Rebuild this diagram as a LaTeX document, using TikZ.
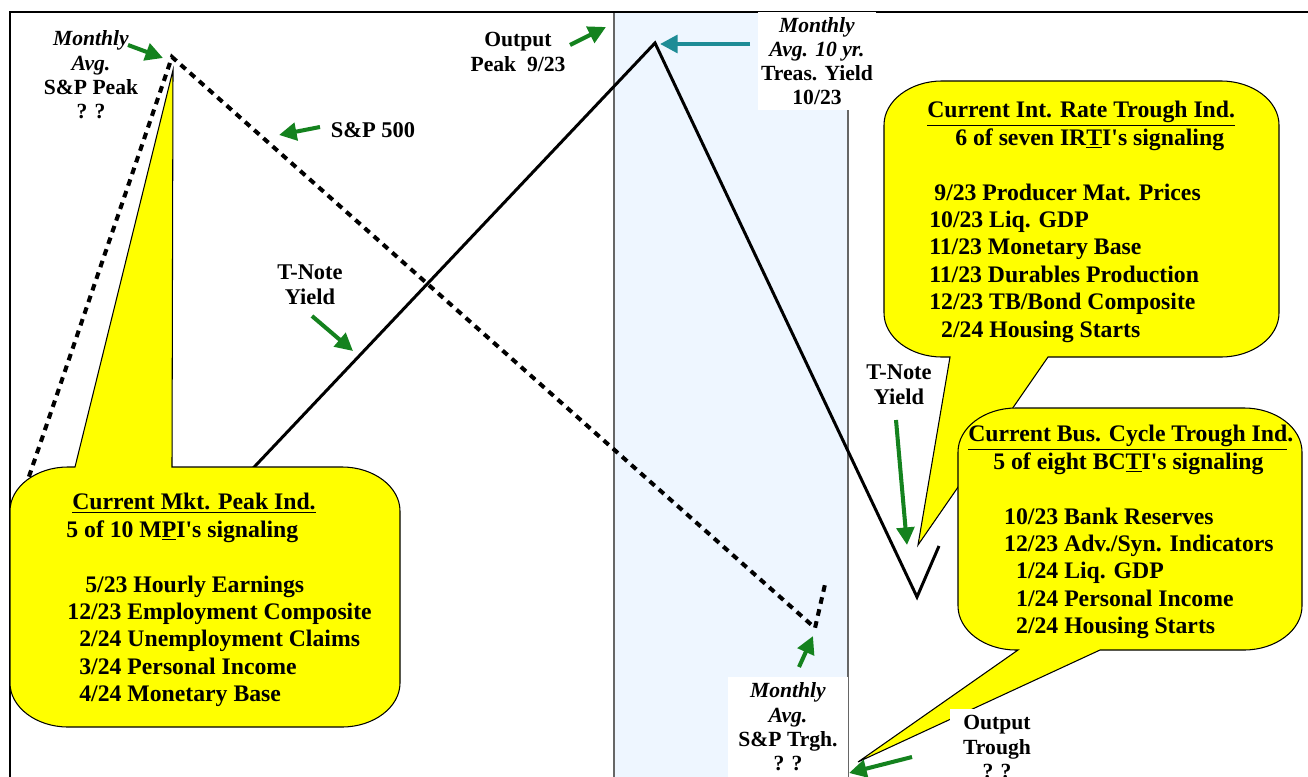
\documentclass[tikz,border=0pt]{standalone}
\usepackage{fontspec}
\setmainfont{Liberation Serif}[Ligatures=TeXOff]
\usepackage{tikz}
\usetikzlibrary{arrows.meta, positioning}

\definecolor{bandblue}{RGB}{238,246,255}
\definecolor{arrowgreen}{RGB}{20,130,30}
\definecolor{arrowteal}{RGB}{30,140,150}
\definecolor{calloutyellow}{RGB}{255,255,0}

\begin{document}
\begin{tikzpicture}[
    x=0.02cm, y=-0.02cm,
    % 标签
    lbl/.style={font=\fontsize{12.3}{13.8}\selectfont\bfseries, align=center, inner sep=0pt},
    lblbox/.style={lbl, fill=white},
    % 说明框
    callout/.style={fill=calloutyellow, draw=black, line width=0.6pt},
    calltext/.style={font=\fontsize{13.5}{15.6}\selectfont\bfseries, align=left, inner sep=0pt, anchor=north west},
    % 曲线
    spline/.style={line width=2.3pt, dash pattern=on 3.8pt off 3.2pt},
    tnline/.style={line width=1.7pt},
    % 箭头
    pointer/.style={draw=arrowgreen, line width=2.3pt, -{Triangle[length=10pt,width=10pt]}},
    tealpointer/.style={pointer, draw=arrowteal}
]
\useasboundingbox (0,0) rectangle (1308,777);

% 背景带
\fill[bandblue] (614,12) rectangle (848,777);
\draw[gray!80!black, line width=0.8pt] (614,12) -- (614,777);
\draw[gray!80!black, line width=0.8pt] (848,12) -- (848,777);
\draw[line width=1.1pt] (10,777) -- (10,12) -- (1308,12);

% 曲线上的点
\coordinate (spStart) at (21,500);
\coordinate (spPeak) at (172,57);
\coordinate (spTrough) at (815,628);
\coordinate (spEnd) at (826,580);
\coordinate (tnStart) at (223,500);
\coordinate (tnPeak) at (655,43);
\coordinate (tnTrough) at (917,597);
\coordinate (tnEnd) at (939,546);

\draw[spline] (spStart) -- (spPeak) -- (spTrough) -- (spEnd);
\draw[tnline] (tnStart) -- (tnPeak) -- (tnTrough) -- (tnEnd);

% 说明框
\draw[callout] (68,467) -- (75,467) -- (173,70) -- (172,467) -- (342,467)
    .. controls (374,467) and (400,487) .. (400,511) -- (400,683)
    .. controls (400,707) and (374,727) .. (342,727) -- (68,727)
    .. controls (36,727) and (10,707) .. (10,683) -- (10,511)
    .. controls (10,487) and (36,467) .. (68,467) -- cycle;
\draw[callout] (942,81) -- (1221,81)
    .. controls (1253,81) and (1279,101) .. (1279,125) -- (1279,313)
    .. controls (1279,337) and (1253,357) .. (1221,357) -- (1048,357)
    -- (918,545) -- (950,357) -- (942,357)
    .. controls (910,357) and (884,337) .. (884,313) -- (884,125)
    .. controls (884,101) and (910,81) .. (942,81) -- cycle;
\draw[callout] (1016,408) -- (1244,408)
    .. controls (1276,408) and (1302,428) .. (1302,452) -- (1302,606)
    .. controls (1302,630) and (1276,650) .. (1244,650) -- (1100,650)
    -- (858,762) -- (1018,650) -- (1016,650)
    .. controls (984,650) and (958,630) .. (958,606) -- (958,452)
    .. controls (958,428) and (984,408) .. (1016,408) -- cycle;

\node[calltext] (mpi) at (66,493) {%
    \hspace*{3.4pt}\underline{Current Mkt. Peak Ind.}\\
    5 of 10 M\underline{P}I's signaling\\[15.6pt]
    \hspace*{10.8pt}5/23 Hourly Earnings\\
    \hspace*{0.6pt}12/23 Employment Composite\\
    \hspace*{7.4pt}2/24 Unemployment Claims\\
    \hspace*{7.4pt}3/24 Personal Income\\
    \hspace*{7.4pt}4/24 Monetary Base};
\node[calltext] (irti) at (927,101) {%
    \underline{Current Int. Rate Trough Ind.}\\
    \hspace*{15.9pt}6 of seven IR\underline{T}I's signaling\\[15.6pt]
    \hspace*{4pt}9/23 Producer Mat. Prices\\
    \hspace*{1.1pt}10/23 Liq. GDP\\
    \hspace*{1.1pt}11/23 Monetary Base\\
    \hspace*{1.1pt}11/23 Durables Production\\
    \hspace*{1.1pt}12/23 TB/Bond Composite\\
    \hspace*{7.9pt}2/24 Housing Starts};
\node[calltext] (bcti) at (968,425) {%
    \underline{Current Bus. Cycle Trough Ind}.\\
    \hspace*{14.2pt}5 of eight BC\underline{T}I's signaling\\[15.6pt]
    \hspace*{20.4pt}10/23 Bank Reserves\\
    \hspace*{20.4pt}12/23 Adv./Syn. Indicators\\
    \hspace*{27.2pt}1/24 Liq. GDP\\
    \hspace*{27.2pt}1/24 Personal Income\\
    \hspace*{27.2pt}2/24 Housing Starts};

% 标签
\node[lbl] (peakLbl) at (91,75) {\textit{Monthly}\\ \textit{Avg.}\\ S\&P Peak\\ ? ?};
\node[lbl] (outPeakLbl) at (518,52) {Output\\ Peak~~9/23};
\node[lbl, font=\fontsize{12.8}{14}\selectfont\bfseries] (spLbl) at (373,130) {S\&P 500};
\node[lbl, font=\fontsize{12.8}{14}\selectfont\bfseries] (tnLeftLbl) at (310,285) {T-Note\\ Yield};
\node[lblbox, minimum width=2.36cm, minimum height=1.96cm] (tsyLbl) at (817,61)
    {\textit{Monthly}\\ \textit{Avg. 10 yr.}\\ Treas. Yield\\ 10/23};
\node[lbl, font=\fontsize{12.8}{14}\selectfont\bfseries] (tnRightLbl) at (899,385) {T-Note\\ Yield};
\node[lblbox, minimum width=2.4cm, minimum height=2cm] (trghLbl) at (788,727)
    {\textit{Monthly}\\ \textit{Avg.}\\ S\&P Trgh.\\ ? ?};
\node[lblbox, minimum width=1.9cm, minimum height=1.52cm] (outTrghLbl) at (997,747)
    {Output\\ Trough\\ ? ?};

% 箭头
\coordinate (a1) at (128,45);  \coordinate (b1) at (163,58);
\coordinate (a2) at (570,45);  \coordinate (b2) at (606,27);
\coordinate (a3) at (320,127); \coordinate (b3) at (279,135);
\coordinate (a4) at (312,316); \coordinate (b4) at (353,351);
\coordinate (a5) at (750,44);  \coordinate (b5) at (660,44);
\coordinate (a6) at (896,420); \coordinate (b6) at (907,545);
\coordinate (a7) at (799,667); \coordinate (b7) at (813,636);
\coordinate (a8) at (912,757); \coordinate (b8) at (849,773);
\draw[pointer] (a1) -- (b1);
\draw[pointer] (a2) -- (b2);
\draw[pointer] (a3) -- (b3);
\draw[pointer] (a4) -- (b4);
\draw[tealpointer] (a5) -- (b5);
\draw[pointer] (a6) -- (b6);
\draw[pointer] (a7) -- (b7);
\draw[pointer] (a8) -- (b8);

\end{tikzpicture}
\end{document}
